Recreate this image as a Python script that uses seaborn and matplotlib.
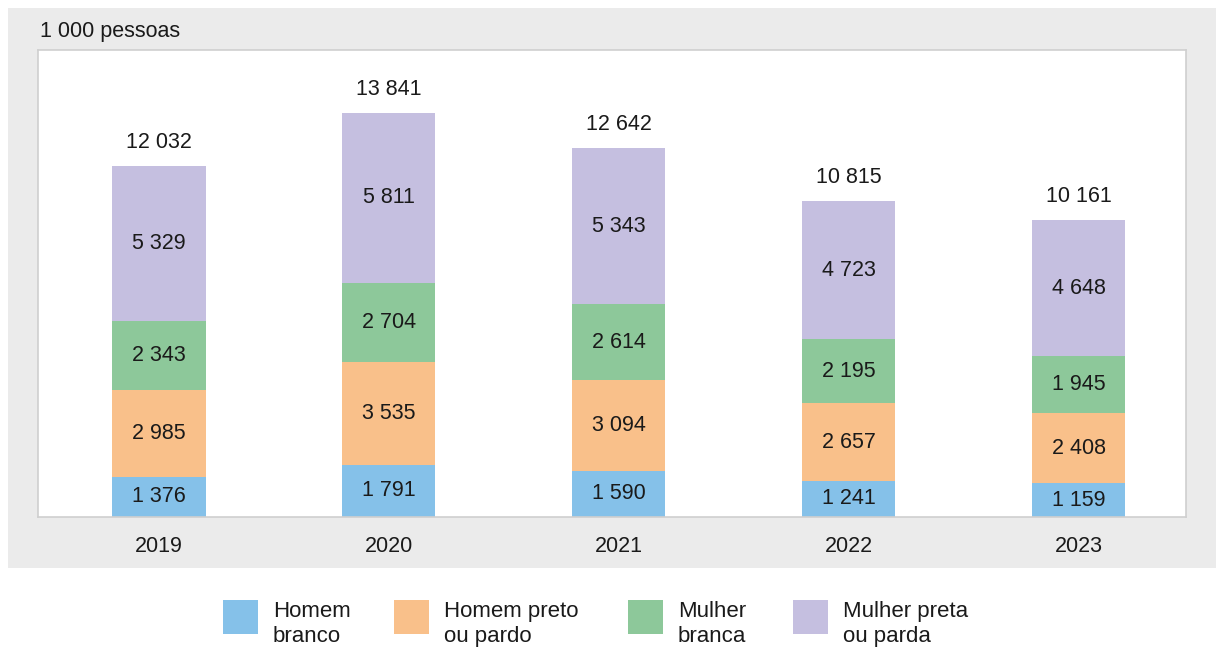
import matplotlib
matplotlib.use("Agg")
import matplotlib.pyplot as plt
from matplotlib.patches import Rectangle
import seaborn as sns
import numpy as np
import pandas as pd

years = ["2019", "2020", "2021", "2022", "2023"]
homem_branco = [1376, 1791, 1590, 1241, 1159]
homem_preto_pardo = [2985, 3535, 3094, 2657, 2408]
mulher_branca = [2343, 2704, 2614, 2195, 1945]
mulher_preta_parda = [5329, 5811, 5343, 4723, 4648]
totals = [12032, 13841, 12642, 10815, 10161]

series_names = ["Homem\nbranco", "Homem preto\nou pardo", "Mulher\nbranca", "Mulher preta\nou parda"]
series_values = [homem_branco, homem_preto_pardo, mulher_branca, mulher_preta_parda]
colors = ["#85C1E9", "#F9C08A", "#8DC89A", "#C5BFE0"]

sns.set_theme(style="white")
plt.rcParams["font.family"] = ["Liberation Sans", "DejaVu Sans"]

FS = 15.5
LFS = 16
W, H = 1216, 648
fig = plt.figure(figsize=(W / 100, H / 100), dpi=100)
fig.patch.set_facecolor("white")

# gray panel
bg = Rectangle((8 / W, 1 - 568 / H), 1.0, (568 - 8) / H,
               transform=fig.transFigure, facecolor="#ebebeb",
               edgecolor="none", zorder=-10)
fig.add_artist(bg)

ax = fig.add_axes([38 / W, 1 - 517 / H, (1186 - 38) / W, (517 - 50) / H])
ax.set_zorder(1)
ax.set_facecolor("white")

df = pd.DataFrame({"ano": years})
cum = np.zeros(len(years))
cums = []
for vals in series_values:
    cum = cum + np.array(vals)
    cums.append(cum.copy())

# draw cumulative stacks from top layer down so lower layers overlay
for i in range(len(series_values) - 1, -1, -1):
    d = df.copy()
    d["v"] = cums[i]
    sns.barplot(data=d, x="ano", y="v", color=colors[i], saturation=1,
                width=0.405, ax=ax, edgecolor="none", linewidth=0)

# segment labels
for i, vals in enumerate(series_values):
    base = cums[i] - np.array(vals)
    for j, v in enumerate(vals):
        ax.text(j, base[j] + v / 2, f"{v:,}".replace(",", " "),
                ha="center", va="center", fontsize=FS, color="#1a1a1a")

# totals
for j, t in enumerate(totals):
    ax.annotate(f"{t:,}".replace(",", " "), (j, cums[-1][j]),
                xytext=(0, 17), textcoords="offset points",
                ha="center", va="center", fontsize=FS, color="#1a1a1a")

ax.set_ylim(0, 16000)
ax.set_xlim(-0.526, 4.466)
ax.set_xlabel("")
ax.set_ylabel("")
ax.set_yticks([])
ax.tick_params(axis="x", length=0, pad=14, labelsize=FS, labelcolor="#1a1a1a")
for s in ax.spines.values():
    s.set_visible(True)
    s.set_color("#cfcfcf")
    s.set_linewidth(1.2)

fig.text(40 / W, 1 - 31 / H, "1 000 pessoas", fontsize=FS, color="#1a1a1a",
         ha="left", va="center")

# legend
patch_x = [223, 394, 628, 793]
for name, c, px in zip(series_names, colors, patch_x):
    fig.add_artist(Rectangle((px / W, 1 - 634 / H), 35 / W, 34 / H,
                             transform=fig.transFigure, facecolor=c,
                             edgecolor="none"))
    fig.text((px + 50) / W, 1 - 624 / H, name, fontsize=LFS, color="#1a1a1a",
             ha="left", va="center", linespacing=1.25)

fig.savefig("out.png", dpi=100, facecolor="white")
